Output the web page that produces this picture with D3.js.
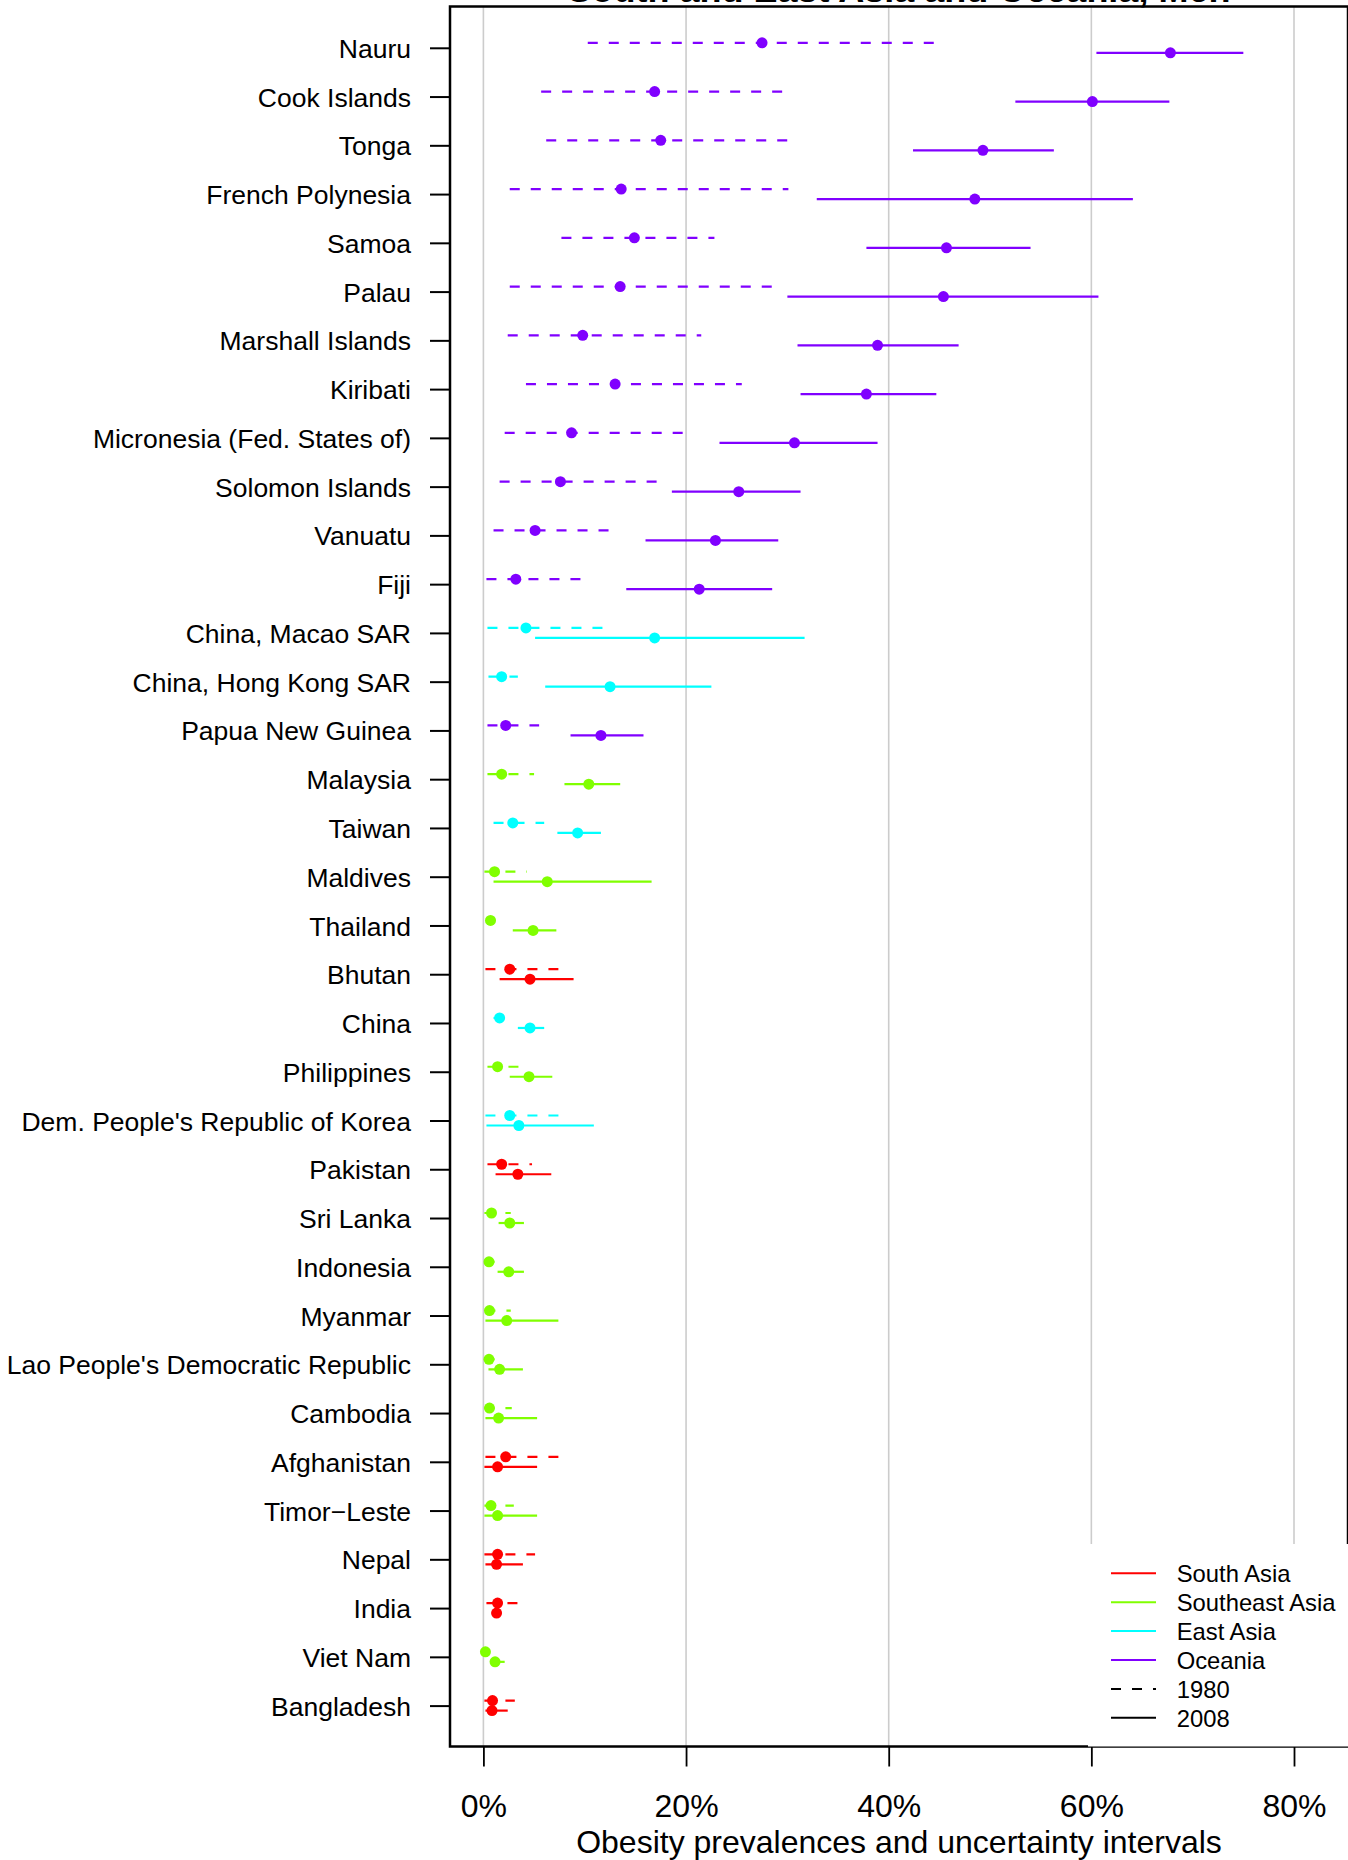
<!DOCTYPE html>
<html>
<head>
<meta charset="utf-8">
<script src="https://cdn.jsdelivr.net/npm/d3@7"></script>
<style>
  body { margin: 0; background: #fff; }
  svg { display: block; font-family: 'Liberation Sans', Arial, Helvetica, sans-serif; }
</style>
</head>
<body>
<div id="chart"></div>
<script>
'use strict';

// Countries, top to bottom
var countries = ['Nauru', 'Cook Islands', 'Tonga', 'French Polynesia', 'Samoa', 'Palau',
  'Marshall Islands', 'Kiribati', 'Micronesia (Fed. States of)', 'Solomon Islands', 'Vanuatu',
  'Fiji', 'China, Macao SAR', 'China, Hong Kong SAR', 'Papua New Guinea', 'Malaysia', 'Taiwan',
  'Maldives', 'Thailand', 'Bhutan', 'China', 'Philippines', "Dem. People's Republic of Korea",
  'Pakistan', 'Sri Lanka', 'Indonesia', 'Myanmar', "Lao People's Democratic Republic",
  'Cambodia', 'Afghanistan', 'Timor\u2212Leste', 'Nepal', 'India', 'Viet Nam', 'Bangladesh'];

var regionOf = ['O', 'O', 'O', 'O', 'O', 'O', 'O', 'O', 'O', 'O', 'O', 'O',
  'E', 'E', 'O', 'SE', 'E', 'SE', 'SE', 'S', 'E', 'SE', 'E', 'S', 'SE', 'SE', 'SE', 'SE',
  'SE', 'S', 'SE', 'S', 'S', 'SE', 'S'];

// 1980 estimates (%)
var lo1980 = [10.3, 5.7, 6.2, 2.6, 7.7, 2.6, 2.4, 4.2, 2.1, 1.6, 1.0, 0.3,
  0.4, 0.5, 0.4, 0.4, 1.0, 0.1, 0.3, 0.2, 1.0, 0.4, 0.2, 0.4, 0.1, 0.2, 0.2, 0.2,
  0.1, 0.2, 0.1, 0.1, 0.3, 0.05, 0.1];
var mid1980 = [27.5, 16.9, 17.5, 13.6, 14.9, 13.5, 9.8, 13.0, 8.7, 7.6, 5.1, 3.2,
  4.2, 1.8, 2.2, 1.8, 2.9, 1.1, 0.7, 2.6, 1.6, 1.4, 2.6, 1.8, 0.8, 0.55, 0.6, 0.55,
  0.6, 2.2, 0.75, 1.4, 1.4, 0.2, 0.9];
var hi1980 = [44.6, 29.8, 30.3, 30.1, 22.8, 28.9, 21.5, 25.5, 20.0, 17.3, 12.6, 9.7,
  11.9, 3.4, 5.5, 5.0, 6.0, 4.3, 1.2, 7.4, 2.2, 3.5, 7.5, 4.8, 2.7, 1.1, 2.7, 1.1,
  2.8, 7.4, 3.0, 5.1, 3.4, 0.5, 3.1];

// 2008 estimates (%)
var lo2008 = [60.5, 52.5, 42.4, 32.9, 37.8, 30.0, 31.0, 31.3, 23.3, 18.6, 16.0, 14.1,
  5.1, 6.1, 8.6, 8.0, 7.3, 1.0, 2.9, 1.6, 3.4, 2.6, 0.3, 1.2, 1.5, 1.4, 0.2, 0.5,
  0.2, 0.1, 0.1, 0.2, 1.0, 0.7, 0.2];
var mid2008 = [67.8, 60.1, 49.3, 48.5, 45.7, 45.4, 38.9, 37.8, 30.7, 25.2, 22.9, 21.3,
  16.9, 12.5, 11.6, 10.4, 9.3, 6.3, 4.9, 4.6, 4.6, 4.5, 3.5, 3.4, 2.6, 2.5, 2.3, 1.6,
  1.5, 1.4, 1.4, 1.3, 1.3, 1.15, 0.85];
var hi2008 = [75.0, 67.7, 56.3, 64.1, 54.0, 60.7, 46.9, 44.7, 38.9, 31.3, 29.1, 28.5,
  31.7, 22.5, 15.8, 13.5, 11.6, 16.6, 7.2, 8.9, 6.0, 6.8, 10.9, 6.7, 4.0, 4.0, 7.4, 3.9,
  5.3, 5.3, 5.3, 3.9, 1.7, 2.1, 2.4];

var regionKeys = ['S', 'SE', 'E', 'O'];
var regionNames = ['South Asia', 'Southeast Asia', 'East Asia', 'Oceania'];
var regionColors = ['#ff0000', '#80ff00', '#00ffff', '#8000ff'];
var xTicks = [0, 20, 40, 60, 80];
var title = 'South and East Asia and Oceania, Men';
var xLabel = 'Obesity prevalences and uncertainty intervals';

var width = 1348, height = 1860;
var box = {left: 450, top: 6.5, right: 1348, bottom: 1746.5};
var dash = '10,11';

var color = d3.scaleOrdinal().domain(regionKeys).range(regionColors);
var x = d3.scaleLinear().domain([0, 80]).range([483.4, 1294]);
var y = d3.scalePoint().domain(countries).range([47.8, 1705.6]);

var rows = countries.map(function(c, i) {
  return {
    country: c, region: regionOf[i],
    lo1980: lo1980[i], mid1980: mid1980[i], hi1980: hi1980[i],
    lo2008: lo2008[i], mid2008: mid2008[i], hi2008: hi2008[i]
  };
});

var svg = d3.select('#chart').append('svg')
  .attr('width', width)
  .attr('height', height);

// Title, mostly cut off by the top edge
svg.append('text')
  .attr('x', (box.left + box.right) / 2)
  .attr('y', 1.5)
  .attr('text-anchor', 'middle')
  .style('font-size', '36px')
  .style('font-weight', 'bold')
  .text(title);

// Grid lines
svg.selectAll('.grid')
  .data(xTicks)
.enter().append('line')
  .attr('x1', function(d) { return x(d); })
  .attr('x2', function(d) { return x(d); })
  .attr('y1', box.top)
  .attr('y2', box.bottom)
  .attr('stroke', '#cccccc')
  .attr('stroke-width', 1.6);

// Intervals
var g = svg.append('g');
var row = g.selectAll('.row')
  .data(rows)
.enter().append('g');

row.append('line')
  .attr('x1', function(d) { return x(d.lo1980); })
  .attr('x2', function(d) { return x(d.hi1980); })
  .attr('y1', function(d) { return y(d.country) - 5; })
  .attr('y2', function(d) { return y(d.country) - 5; })
  .attr('stroke', function(d) { return color(d.region); })
  .attr('stroke-width', 2.2)
  .attr('stroke-dasharray', dash);

row.append('circle')
  .attr('cx', function(d) { return x(d.mid1980); })
  .attr('cy', function(d) { return y(d.country) - 5; })
  .attr('r', 5.5)
  .attr('fill', function(d) { return color(d.region); });

row.append('line')
  .attr('x1', function(d) { return x(d.lo2008); })
  .attr('x2', function(d) { return x(d.hi2008); })
  .attr('y1', function(d) { return y(d.country) + 5; })
  .attr('y2', function(d) { return y(d.country) + 5; })
  .attr('stroke', function(d) { return color(d.region); })
  .attr('stroke-width', 2.2);

row.append('circle')
  .attr('cx', function(d) { return x(d.mid2008); })
  .attr('cy', function(d) { return y(d.country) + 5; })
  .attr('r', 5.5)
  .attr('fill', function(d) { return color(d.region); });

// Plot box
svg.append('rect')
  .attr('x', box.left)
  .attr('y', box.top)
  .attr('width', box.right - box.left)
  .attr('height', box.bottom - box.top)
  .attr('fill', 'none')
  .attr('stroke', '#000')
  .attr('stroke-width', 2.5);

// Y axis
var yAxis = d3.axisLeft(y).tickSize(20).tickPadding(19);
var yg = svg.append('g')
  .attr('transform', 'translate(' + box.left + ',0)')
  .call(yAxis);
yg.select('.domain').remove();
yg.selectAll('.tick line').attr('stroke-width', 2);
yg.selectAll('.tick text')
  .attr('dy', '0.36em')
  .style('font-family', 'inherit')
  .style('font-size', '26.5px')
  .attr('fill', '#000');

// X axis
var xAxis = d3.axisBottom(x)
  .tickValues(xTicks)
  .tickSize(20)
  .tickPadding(28)
  .tickFormat(function(d) { return d + '%'; });
var xg = svg.append('g')
  .attr('transform', 'translate(0,' + box.bottom + ')')
  .call(xAxis);
xg.select('.domain').remove();
xg.selectAll('.tick line').attr('stroke-width', 1.8);
xg.selectAll('.tick text')
  .style('font-family', 'inherit')
  .style('font-size', '32px')
  .attr('fill', '#000');

svg.append('text')
  .attr('x', (box.left + box.right) / 2)
  .attr('y', 1853)
  .attr('text-anchor', 'middle')
  .style('font-size', '32px')
  .text(xLabel);

// Legend
var legendItems = regionNames.map(function(n, i) {
  return {label: n, color: regionColors[i], dash: null};
});
legendItems.push({label: '1980', color: '#000', dash: dash});
legendItems.push({label: '2008', color: '#000', dash: null});

var legend = svg.append('g');
legend.append('rect')
  .attr('x', 1088)
  .attr('y', 1544)
  .attr('width', width - 1088)
  .attr('height', box.bottom - 1544)
  .attr('fill', '#fff');

var item = legend.selectAll('.item')
  .data(legendItems)
.enter().append('g')
  .attr('transform', function(d, i) {
    return 'translate(0,' + (1573.3 + i * 28.9) + ')';
  });

item.append('line')
  .attr('x1', 1111)
  .attr('x2', 1156)
  .attr('stroke', function(d) { return d.color; })
  .attr('stroke-width', 2)
  .attr('stroke-dasharray', function(d) { return d.dash; });

item.append('text')
  .attr('x', 1176.7)
  .attr('dy', '0.38em')
  .style('font-size', '23.8px')
  .text(function(d) { return d.label; });
</script>
</body>
</html>
